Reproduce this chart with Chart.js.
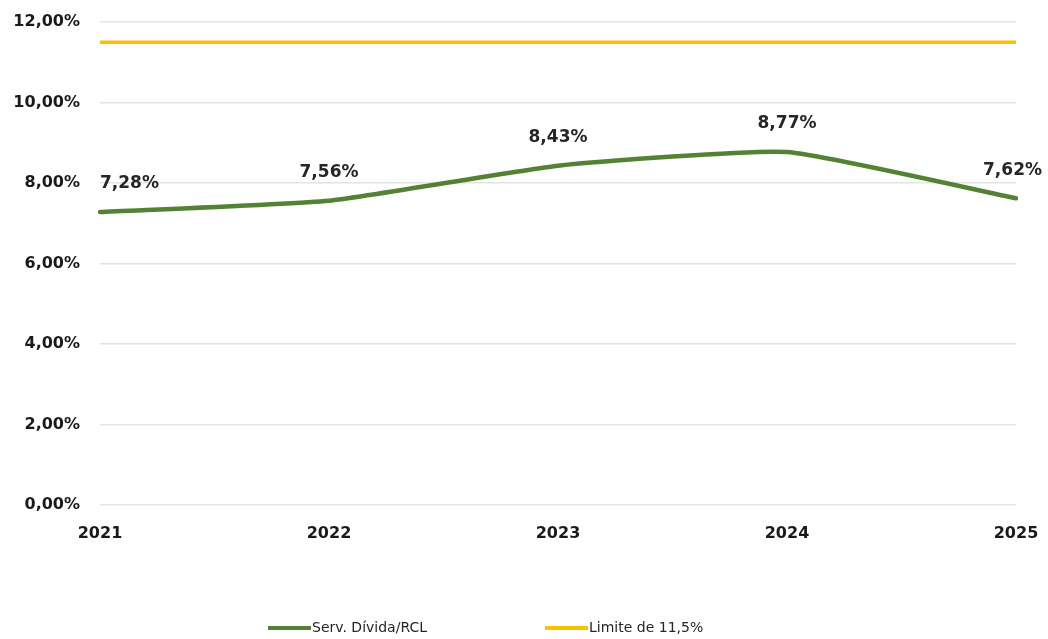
<!DOCTYPE html>
<html>
<head>
<meta charset="utf-8">
<script src="https://cdn.jsdelivr.net/npm/chart.js@4.4.0/dist/chart.umd.min.js"></script>
<style>
html,body{margin:0;padding:0;background:#fff;}
#wrap{width:1048px;height:639px;position:relative;}
</style>
</head>
<body>
<div id="wrap"><canvas id="c" width="1048" height="639"></canvas></div>
<script>
const categories = ['2021', '2022', '2023', '2024', '2025'];
const servDivida = [7.28, 7.56, 8.43, 8.77, 7.62];
const limite = [11.5, 11.5, 11.5, 11.5, 11.5];
const seriesNames = ['Serv. Dívida/RCL', 'Limite de 11,5%'];
const yTicks = [0, 2, 4, 6, 8, 10, 12];

const GREEN = '#548235';
const YELLOW = '#F7C200';
const FONT = '"DejaVu Sans", sans-serif';

function fmt(v){ return v.toFixed(2).replace('.', ',') + '%'; }

const labelPlugin = {
  id: 'labels',
  afterDatasetsDraw(chart){
    const ctx = chart.ctx;
    const meta = chart.getDatasetMeta(0);
    const area = chart.chartArea;
    ctx.save();
    ctx.font = 'bold 17px ' + FONT;
    ctx.fillStyle = '#262626';
    ctx.textBaseline = 'middle';
    ctx.textAlign = 'left';
    meta.data.forEach((pt, i) => {
      const t = fmt(servDivida[i]);
      const w = ctx.measureText(t).width;
      let x = pt.x - w / 2;
      if (x < area.left) x = area.left;
      if (x + w > chart.width - 6) x = chart.width - 6 - w;
      ctx.fillText(t, x, pt.y - 28);
    });
    ctx.restore();
  }
};

const legendPlugin = {
  id: 'customLegend',
  afterDraw(chart){
    const ctx = chart.ctx;
    ctx.save();
    ctx.font = '14px ' + FONT;
    ctx.fillStyle = '#262626';
    ctx.textBaseline = 'middle';
    const items = [
      {x: 268, color: GREEN, text: seriesNames[0]},
      {x: 545, color: YELLOW, text: seriesNames[1]}
    ];
    items.forEach(it => {
      ctx.strokeStyle = it.color;
      ctx.lineWidth = 4;
      ctx.beginPath();
      ctx.moveTo(it.x, 628);
      ctx.lineTo(it.x + 43, 628);
      ctx.stroke();
      ctx.fillText(it.text, it.x + 44, 628);
    });
    ctx.restore();
  }
};

new Chart(document.getElementById('c'), {
  type: 'line',
  data: {
    labels: categories,
    datasets: [
      {label: seriesNames[0], data: servDivida, borderColor: GREEN, backgroundColor: GREEN,
       borderWidth: 4.5, pointRadius: 0, tension: 0.15, borderCapStyle: 'round'},
      {label: seriesNames[1], data: limite, borderColor: YELLOW, backgroundColor: YELLOW,
       borderWidth: 3.5, pointRadius: 0, tension: 0}
    ]
  },
  options: {
    responsive: false,
    animation: false,
    layout: {padding: {top: 22, right: 32, left: 0, bottom: 0}},
    plugins: {legend: {display: false}, tooltip: {enabled: false}},
    scales: {
      x: {
        offset: false,
        grid: {display: false, drawTicks: false},
        border: {display: false},
        ticks: {font: {family: FONT, size: 16, weight: 'bold'}, color: '#1a1a1a', padding: 19, maxRotation: 0},
        afterFit(s){ s.height = 134; s.paddingLeft = 0; s.paddingRight = 0; }
      },
      y: {
        min: 0, max: 12,
        afterBuildTicks(s){ s.ticks = yTicks.map(v => ({value: v})); },
        grid: {color: '#e3e3e3', lineWidth: 1.5, drawTicks: false},
        border: {display: false},
        ticks: {font: {family: FONT, size: 16, weight: 'bold'}, color: '#1a1a1a', padding: 20,
                callback: v => fmt(v)},
        afterFit(s){ s.width = 100; s.paddingTop = 0; s.paddingBottom = 0; }
      }
    }
  },
  plugins: [labelPlugin, legendPlugin]
});
</script>
</body>
</html>
